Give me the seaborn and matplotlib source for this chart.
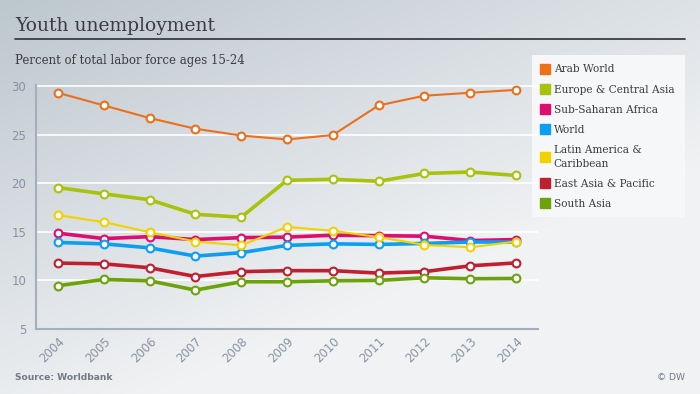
import numpy as np
import pandas as pd
import matplotlib
matplotlib.use("Agg")
import matplotlib.pyplot as plt
from matplotlib.lines import Line2D
from matplotlib.patches import Rectangle
import seaborn as sns

years = [2004, 2005, 2006, 2007, 2008, 2009, 2010, 2011, 2012, 2013, 2014]
series_names = ["Arab World", "Europe & Central Asia", "Sub-Saharan Africa", "World",
                "Latin America &\nCaribbean", "East Asia & Pacific", "South Asia"]
arab_world = [29.3, 28.0, 26.7, 25.6, 24.9, 24.5, 24.95, 28.0, 29.0, 29.3, 29.6]
europe_central_asia = [19.55, 18.9, 18.3, 16.8, 16.5, 20.3, 20.4, 20.2, 21.0, 21.15, 20.8]
sub_saharan_africa = [14.86, 14.3, 14.5, 14.2, 14.4, 14.45, 14.65, 14.6, 14.55, 14.1, 14.2]
world = [13.9, 13.76, 13.35, 12.5, 12.85, 13.6, 13.76, 13.7, 13.8, 13.95, 13.95]
latin_america = [16.7, 16.0, 14.96, 14.0, 13.6, 15.5, 15.1, 14.45, 13.65, 13.4, 14.0]
east_asia_pacific = [11.78, 11.7, 11.3, 10.4, 10.9, 11.0, 11.0, 10.75, 10.9, 11.5, 11.8]
south_asia = [9.45, 10.1, 9.96, 9.0, 9.86, 9.86, 9.96, 10.0, 10.27, 10.17, 10.2]
y_ticks = [5, 10, 15, 20, 25, 30]

values = [arab_world, europe_central_asia, sub_saharan_africa, world,
          latin_america, east_asia_pacific, south_asia]
colors = ["#ec6f1a", "#a9c20c", "#dc0f6e", "#0a9ff0", "#f0d200", "#c01f2f", "#6da30a"]
widths = [1.5, 2.6, 2.6, 2.6, 1.5, 2.6, 2.6]

sns.set_theme(style="white")
plt.rcParams["font.family"] = ["DejaVu Sans"]

fig = plt.figure(figsize=(7.0, 3.94), dpi=100)

# background gradient
bg = fig.add_axes([0, 0, 1, 1], zorder=-10)
h, w = 200, 356
yy, xx = np.mgrid[0:h, 0:w]
t = np.clip((xx / w * 0.55 + yy / h * 0.75), 0, 1)
t = np.clip(t * 1.15, 0, 1)
c0 = np.array([0.74, 0.78, 0.81])
c1 = np.array([0.945, 0.95, 0.957])
img = c0[None, None, :] * (1 - t[..., None]) + c1[None, None, :] * t[..., None]
bg.imshow(img, aspect="auto", extent=[0, 1, 0, 1], origin="upper")
bg.set_axis_off()

ax = fig.add_axes([36 / 700, 1 - 329 / 394, (538 - 36) / 700, (329 - 85) / 394])
ax.set_facecolor("none")

for name, vals, col, lw in zip(series_names, values, colors, widths):
    df = pd.DataFrame({"year": years, "value": vals})
    sns.lineplot(data=df, x="year", y="value", ax=ax, color=col, linewidth=lw,
                 marker="o", markersize=5.6, markerfacecolor="white",
                 markeredgecolor=col, markeredgewidth=1.5, zorder=3)

ax.set_xlim(2003.52, 2014.48)
ax.set_ylim(5, 30.1)
ax.set_yticks(y_ticks)
ax.set_xticks(years)
ax.set_xticklabels([str(y) for y in years], rotation=45, ha="right",
                   rotation_mode="anchor")
ax.set_xlabel("")
ax.set_ylabel("")
for yv in y_ticks[1:]:
    ax.axhline(yv, color="white", lw=1.2, zorder=1)
for s in ["top", "right"]:
    ax.spines[s].set_visible(False)
for s in ["left", "bottom"]:
    ax.spines[s].set_color("#a3afbb")
    ax.spines[s].set_linewidth(1.5)
ax.tick_params(axis="both", colors="#8593a2", labelsize=8.5, length=0)
ax.tick_params(axis="y", pad=7)
ax.tick_params(axis="x", pad=4)
for lbl in ax.get_xticklabels() + ax.get_yticklabels():
    lbl.set_color("#8593a2")

# title and subtitle
fig.text(15 / 700, 1 - 31 / 394, "Youth unemployment", family="DejaVu Serif",
         fontsize=13.5, color="#3c3c3c", va="baseline")
fig.add_artist(Line2D([15 / 700, 685 / 700], [1 - 39 / 394, 1 - 39 / 394],
                      color="#3a3d42", lw=1.3))
fig.text(15 / 700, 1 - 64 / 394, "Percent of total labor force ages 15-24",
         family="DejaVu Serif", fontsize=8.5, color="#3c3c3c", va="baseline")

# legend box
fig.add_artist(Rectangle((532 / 700, 1 - 217 / 394), (685 - 532) / 700, (217 - 55) / 394,
                         transform=fig.transFigure, facecolor="#f6f7f9",
                         edgecolor="none", zorder=0))
handles = [Line2D([0], [0], marker="s", linestyle="none", markersize=7,
                  markerfacecolor=c, markeredgecolor=c) for c in colors]
leg = fig.legend(handles, series_names, loc="upper left",
                 bbox_to_anchor=(541 / 700, 1 - 64.5 / 394), frameon=False,
                 prop={"family": "DejaVu Serif", "size": 7.6},
                 handlelength=0.7, handletextpad=0.5, labelspacing=0.95,
                 borderpad=0, borderaxespad=0)
for txt in leg.get_texts():
    txt.set_color("#3c3c3c")
    txt.set_linespacing(1.5)

fig.text(15 / 700, 1 - 380 / 394, "Source: Worldbank", fontsize=6.6,
         fontweight="bold", color="#727b85", va="baseline")
fig.text(685 / 700, 1 - 380 / 394, "© DW", fontsize=6.6, color="#727b85",
         va="baseline", ha="right")

fig.savefig("out.png", dpi=100)
